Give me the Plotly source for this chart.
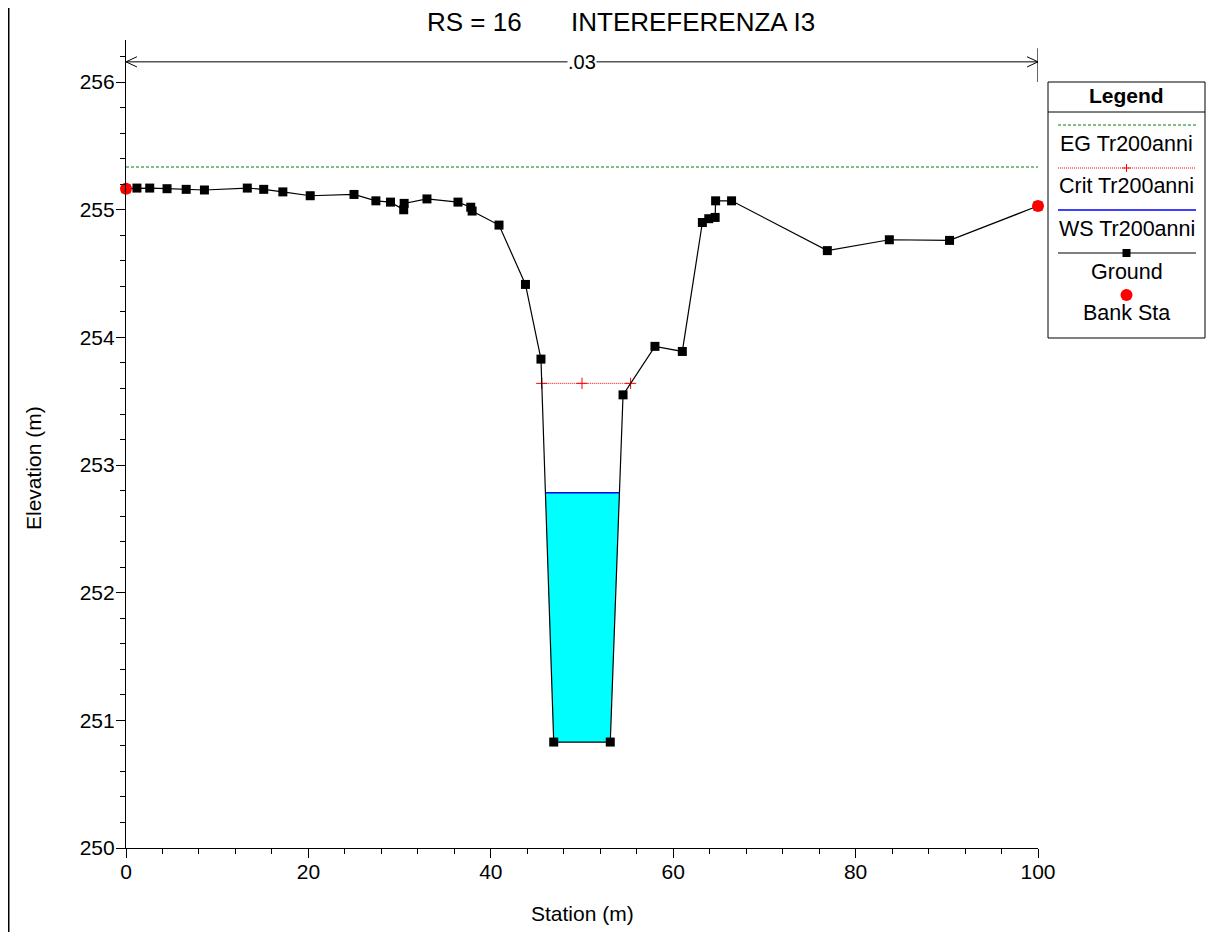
import numpy as np
import plotly.graph_objects as go

# ---------------- data ----------------
ground_x = [0, 1.2, 2.6, 4.5, 6.6, 8.6, 13.3, 15.1, 17.2, 20.2, 25.0, 27.4, 29.0, 30.45, 30.5,
            33.0, 36.4, 37.8, 37.95, 40.9, 43.8, 45.5, 46.9, 53.1, 54.5, 58.0, 61.0, 63.2,
            63.9, 64.6, 64.65, 66.4, 76.9, 83.7, 90.3, 100]
ground_y = [255.165, 255.17, 255.17, 255.165, 255.16, 255.155, 255.17, 255.16, 255.14, 255.11,
            255.12, 255.07, 255.06, 255.0, 255.05, 255.085, 255.06, 255.02, 254.99, 254.88,
            254.415, 253.83, 250.83, 250.83, 253.55, 253.93, 253.89, 254.9, 254.93, 254.94,
            255.07, 255.07, 254.68, 254.765, 254.76, 255.03]
bank_x = [0, 100]
bank_y = [255.165, 255.03]
eg_x = [0, 100]
eg_elev = 255.335
crit_elev = 253.64
crit_mid_x = 50.0
ws_elev = 252.783
channel_lo, channel_hi = 44.0, 57.0   # search window for water / crit crossings
n_value_label = ".03"
x_ticks = [0, 20, 40, 60, 80, 100]
y_ticks = [250, 251, 252, 253, 254, 255, 256]

FONT = "Liberation Sans, Arial, sans-serif"


def crossings(level):
    """Left/right crossing of a level with the ground inside the channel window."""
    gx = np.array(ground_x)
    gy = np.array(ground_y)
    pts = []
    for i in range(len(gx) - 1):
        if gx[i + 1] < channel_lo or gx[i] > channel_hi:
            continue
        y0, y1 = gy[i], gy[i + 1]
        if (y0 - level) * (y1 - level) < 0:
            t = (level - y0) / (y1 - y0)
            pts.append(gx[i] + t * (gx[i + 1] - gx[i]))
    return pts[0], pts[-1]


ws_l, ws_r = crossings(ws_elev)
cr_l, cr_r = crossings(crit_elev)

poly_x = [ws_l] + [x for x in ground_x if ws_l < x < ws_r] + [ws_r]
poly_y = [ws_elev] + [y for x, y in zip(ground_x, ground_y) if ws_l < x < ws_r] + [ws_elev]

fig = go.Figure()

fig.add_trace(go.Scatter(x=poly_x, y=poly_y, fill="toself", fillcolor="#00FFFF",
                         mode="lines", line=dict(width=0, color="#00FFFF"),
                         showlegend=False, hoverinfo="skip"))
fig.add_trace(go.Scatter(x=[ws_l, ws_r], y=[ws_elev, ws_elev], mode="lines",
                         line=dict(color="#0000FF", width=1.5), showlegend=False))
fig.add_trace(go.Scatter(x=eg_x, y=[eg_elev] * len(eg_x), mode="lines",
                         line=dict(color="#008000", width=1, dash="3px,2px"), showlegend=False))
fig.add_trace(go.Scatter(x=[cr_l, crit_mid_x, cr_r], y=[crit_elev] * 3,
                         mode="lines+markers",
                         line=dict(color="#FF0000", width=1, dash="1px,1px"),
                         marker=dict(symbol="cross-thin", size=8,
                                     line=dict(color="#FF0000", width=1)),
                         showlegend=False))
fig.add_trace(go.Scatter(x=ground_x, y=ground_y, mode="lines+markers",
                         line=dict(color="black", width=1.2),
                         marker=dict(symbol="square", size=9, color="black"),
                         cliponaxis=False, showlegend=False))
fig.add_trace(go.Scatter(x=bank_x, y=bank_y, mode="markers",
                         marker=dict(symbol="circle", size=12, color="#FF0000"),
                         cliponaxis=False, showlegend=False))

# ---------------- layout geometry (page has an 8px body margin) ----------------
OFF = 8
W, H = 1199, 924
L, T = 126 - OFF, 40 - OFF
PW, PH = 912, 808
R = W - L - PW
B = H - T - PH


def px(p):
    """page x pixel -> paper x"""
    return (p - OFF - L) / PW


def py(p):
    """page y pixel -> paper y"""
    return (T + PH - (p - OFF)) / PH


shapes = []
annotations = []

# n-value dimension line above the plot
y_dim = 250 + (848 - 61.7) / 127.67
y_top = 250 + (848 - 48) / 127.67
y_base = 256.0
dx, dy = 1.2, 0.04
shapes += [
    dict(type="line", xref="x", yref="y", x0=0, x1=100, y0=y_dim, y1=y_dim,
         line=dict(color="black", width=1)),
    dict(type="line", xref="x", yref="y", x0=100, x1=100, y0=y_base, y1=y_top,
         line=dict(color="black", width=1.2)),
    dict(type="line", xref="x", yref="y", x0=0, x1=dx, y0=y_dim, y1=y_dim + dy,
         line=dict(color="black", width=1)),
    dict(type="line", xref="x", yref="y", x0=0, x1=dx, y0=y_dim, y1=y_dim - dy,
         line=dict(color="black", width=1)),
    dict(type="line", xref="x", yref="y", x0=100, x1=100 - dx, y0=y_dim, y1=y_dim + dy,
         line=dict(color="black", width=1)),
    dict(type="line", xref="x", yref="y", x0=100, x1=100 - dx, y0=y_dim, y1=y_dim - dy,
         line=dict(color="black", width=1)),
]
annotations.append(dict(x=50, y=y_dim, xref="x", yref="y", text=n_value_label,
                        showarrow=False, bgcolor="white", borderpad=0,
                        xanchor="center", yanchor="middle",
                        font=dict(family=FONT, size=20, color="black")))

# left window frame line
shapes.append(dict(type="line", xref="paper", yref="paper", x0=px(OFF + 0.5), x1=px(OFF + 0.5),
                   y0=py(OFF), y1=py(OFF + H), line=dict(color="black", width=2)))


def text(x, y, s, size=21, xanchor="center", angle=0):
    annotations.append(dict(x=px(x), y=py(y), xref="paper", yref="paper", text=s,
                            xanchor=xanchor, yanchor="middle", showarrow=False,
                            textangle=angle,
                            font=dict(family=FONT, size=size, color="black")))


# title
text(425, 22, "RS = 16", size=26, xanchor="left")
text(569, 22, "INTEREFERENZA I3", size=26, xanchor="left")

# axis titles
text(582, 913, "Station (m)")
text(33, 468, "Elevation (m)", angle=-90)

# ---------------- manual legend ----------------
lx0, lx1, ly0, ly1 = 1048, 1205, 82, 338
lc = (lx0 + lx1) / 2
shapes.append(dict(type="rect", xref="paper", yref="paper", x0=px(lx0), x1=px(lx1),
                   y0=py(ly1), y1=py(ly0), line=dict(color="black", width=1),
                   fillcolor="white"))
shapes.append(dict(type="line", xref="paper", yref="paper", x0=px(lx0), x1=px(lx1),
                   y0=py(112), y1=py(112), line=dict(color="black", width=1)))
text(lc, 96, "<b>Legend</b>", size=21)

sx0, sx1 = 1058, 1196
legend_rows = [
    ("EG Tr200anni", 125, 144, dict(color="#008000", width=1, dash="3px,2px")),
    ("Crit Tr200anni", 168, 186, dict(color="#FF0000", width=1, dash="1px,1px")),
    ("WS Tr200anni", 210, 229, dict(color="#0000FF", width=1.5)),
    ("Ground", 253, 272, dict(color="black", width=1.2)),
]
for label, ly, ty, ln in legend_rows:
    shapes.append(dict(type="line", xref="paper", yref="paper", x0=px(sx0), x1=px(sx1),
                       y0=py(ly), y1=py(ly), line=ln))
    text(lc, ty, label, size=21.5)
# crit cross
shapes.append(dict(type="line", xref="paper", yref="paper", x0=px(lc - 4), x1=px(lc + 4),
                   y0=py(168), y1=py(168), line=dict(color="#FF0000", width=1)))
shapes.append(dict(type="line", xref="paper", yref="paper", x0=px(lc), x1=px(lc),
                   y0=py(164), y1=py(172), line=dict(color="#FF0000", width=1)))
# ground square
shapes.append(dict(type="rect", xref="paper", yref="paper", x0=px(lc - 4), x1=px(lc + 4),
                   y0=py(257), y1=py(249), line=dict(width=0), fillcolor="black"))
# bank dot
shapes.append(dict(type="circle", xref="paper", yref="paper", x0=px(lc - 6), x1=px(lc + 6),
                   y0=py(301), y1=py(289), line=dict(width=0), fillcolor="#FF0000"))
text(lc, 313, "Bank Sta", size=21.5)

fig.update_layout(
    width=W, height=H,
    margin=dict(l=L, r=R, t=T, b=B, autoexpand=False),
    paper_bgcolor="white", plot_bgcolor="white",
    font=dict(family=FONT, size=21, color="black"),
    shapes=shapes, annotations=annotations, showlegend=False,
    xaxis=dict(range=[0, 100], tickvals=x_ticks, showgrid=False, zeroline=False,
               showline=True, linecolor="black", linewidth=1.2,
               ticks="outside", ticklen=9, tickcolor="black", tickwidth=1,
               ticklabelstandoff=-4,
               tickfont=dict(family=FONT, size=21, color="black"),
               minor=dict(dtick=4, tick0=0, ticks="outside", ticklen=5,
                          tickcolor="black", showgrid=False)),
    yaxis=dict(range=[250, 256.33], tickvals=y_ticks, showgrid=False, zeroline=False,
               showline=True, linecolor="black", linewidth=1.2,
               ticks="outside", ticklen=9, tickcolor="black", tickwidth=1,
               ticklabelstandoff=-3,
               tickfont=dict(family=FONT, size=21, color="black"),
               minor=dict(dtick=0.2, tick0=250, ticks="outside", ticklen=5,
                          tickcolor="black", showgrid=False)),
)

fig.write_html("out.html")
